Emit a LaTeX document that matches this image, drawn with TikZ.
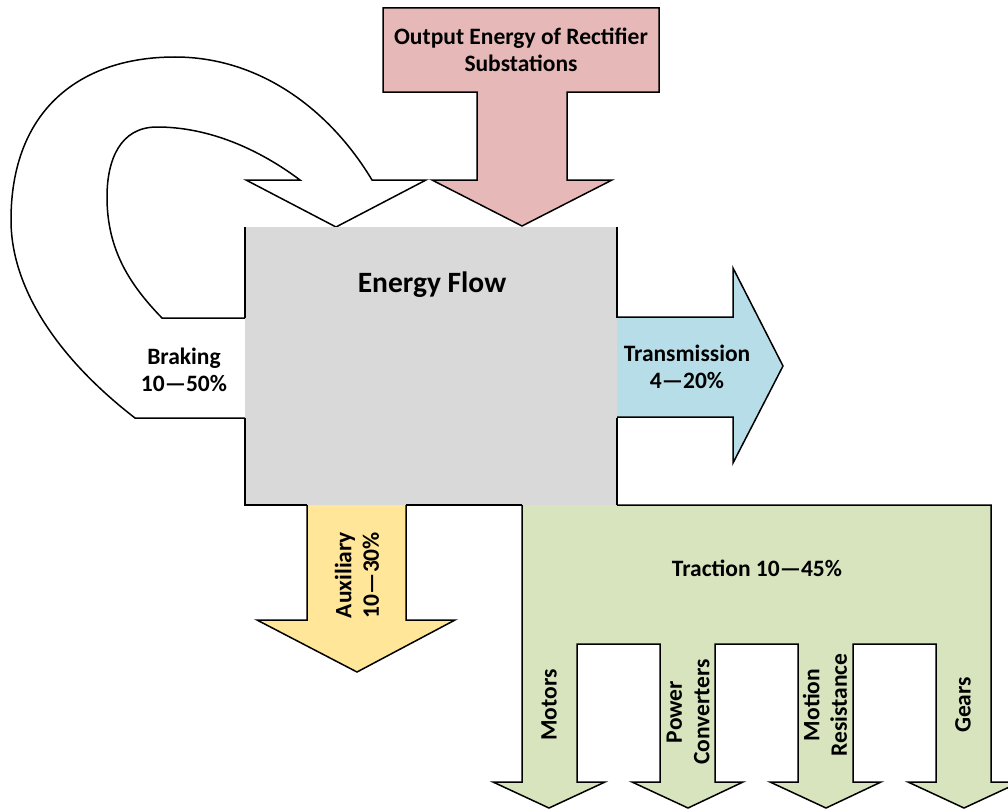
\documentclass[tikz,border=0pt]{standalone}
\usepackage{fontspec}
\setmainfont{Carlito}
\definecolor{grayc}{HTML}{D9D9D9}
\definecolor{pinkc}{HTML}{E6B9B8}
\definecolor{bluec}{HTML}{B7DEE8}
\definecolor{yellowc}{HTML}{FFE699}
\definecolor{greenc}{HTML}{D7E4BD}
\tikzset{
  shapeline/.style={draw=black, line width=1.5pt, line join=miter},
  lbl/.style={font=\fontsize{23.5}{27.5}\selectfont\bfseries, align=center, inner sep=0pt},
  vlbl/.style={lbl, rotate=90},
}
\begin{document}
\begin{tikzpicture}[x=1pt,y=-1pt]
\useasboundingbox (0,0) rectangle (1008,808);
% braking arrow
\filldraw[shapeline, fill=white] (245,418) -- (135,418)
  .. controls (60,360) and (11,290) .. (11,220)
  .. controls (11,110) and (80,57) .. (175,57)
  .. controls (260,57) and (330,110) .. (372,180)
  -- (426,180) -- (336,227) -- (246,180) -- (300,180)
  .. controls (260,150) and (210,127) .. (157,127)
  .. controls (120,127) and (107,160) .. (107,197)
  .. controls (107,250) and (130,285) .. (162,318) -- (245,318);
% rectifier arrow
\filldraw[shapeline, fill=pinkc] (383,8) -- (659,8) -- (659,92) -- (567,92) -- (567,180)
  -- (612,180) -- (522,226) -- (432,180) -- (477,180) -- (477,92) -- (383,92) -- cycle;
% transmission arrow
\filldraw[shapeline, fill=bluec] (617,317) -- (733,317) -- (733,268) -- (783,366)
  -- (733,463) -- (733,417) -- (617,417);
% auxiliary arrow
\filldraw[shapeline, fill=yellowc] (307,505) -- (307,620) -- (257,620) -- (357,672)
  -- (455,620) -- (406,620) -- (406,505);
% traction arrow
\filldraw[shapeline, fill=greenc] (617,505) -- (991,505) -- (991,782) -- (1020,782)
  -- (964,808) -- (908,782) -- (936,782) -- (936,644) -- (853,644) -- (853,782)
  -- (881,782) -- (826,808) -- (770,782) -- (798,782) -- (798,644) -- (715,644)
  -- (715,782) -- (743,782) -- (688,808) -- (632,782) -- (660,782) -- (660,644)
  -- (577,644) -- (577,782) -- (605,782) -- (549,808) -- (493,782) -- (522,782)
  -- (522,505);
% energy flow box
\fill[grayc] (245,227) rectangle (617,505);
\draw[shapeline] (245,227) -- (245,318);
\draw[shapeline] (245,418) -- (245,505) -- (307,505);
\draw[shapeline] (406,505) -- (522,505);
\draw[shapeline] (617,227) -- (617,318);
\draw[shapeline] (617,418) -- (617,505);
% labels
\node[lbl] (rect) at (521,50) {Output Energy of Rectifier\\Substations};
\node[lbl, font=\fontsize{29.5}{34}\selectfont\bfseries] (flow) at (432,285) {Energy Flow};
\node[lbl] (brak) at (184,370) {Braking\\10—50\%};
\node[lbl] (trans) at (687,367) {Transmission\\4—20\%};
\node[vlbl] (aux) at (357,575) {Auxiliary\\10—30\%};
\node[lbl] (trac) at (757,568) {Traction 10—45\%};
\node[vlbl] (mot) at (549,705) {Motors};
\node[vlbl] (pow) at (688,712) {Power\\Converters};
\node[vlbl] (mres) at (825,705) {Motion\\Resistance};
\node[vlbl] (gear) at (963,705) {Gears};
\end{tikzpicture}
\end{document}
